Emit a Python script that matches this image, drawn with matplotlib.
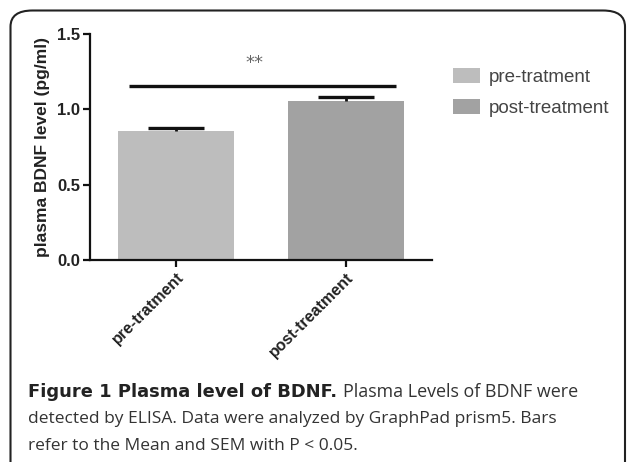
import numpy as np
import matplotlib
matplotlib.use("Agg")
import matplotlib.pyplot as plt
from matplotlib.patches import FancyBboxPatch, Patch

# data
groups = ["pre-tratment", "post-treatment"]
means = [0.853, 1.053]
sem = [0.020, 0.027]
colors = ["#bdbdbd", "#a2a2a2"]
yticks = [0.0, 0.5, 1.0, 1.5]
sig_y = 1.153
sig_label = "**"

W, H = 629, 462
fig = plt.figure(figsize=(W / 100, H / 100), dpi=100)

# rounded frame around the figure
frame = FancyBboxPatch((10.5 / W, -0.2), (625 - 10.5) / W, 1.2 - 10.5 / H,
                       boxstyle="round,pad=0,rounding_size=0.035",
                       transform=fig.transFigure, fill=False,
                       edgecolor="#222222", linewidth=1.5, clip_on=False)
fig.patches.append(frame)

ax = fig.add_axes([90 / W, 1 - 260 / H, (432 - 90) / W, (260 - 34) / H])
x = np.arange(len(groups))
ax.bar(x, means, width=0.682, color=colors, edgecolor="none", zorder=2)
# upper SEM only
tops = np.array(means) + np.array(sem)
ax.vlines(x, means, tops, color="#111111", lw=2.0, zorder=3)
ax.hlines(tops, x - 0.165, x + 0.165, color="#111111", lw=2.4, zorder=3)

ax.plot([-0.276, 1.294], [sig_y, sig_y], color="#111111", lw=2.4, solid_capstyle="butt")
ax.text(0.46, 1.31, sig_label, ha="center", va="center", fontsize=13,
        color="#666666", family="DejaVu Sans")

ax.set_xlim(-0.506, 1.506)
ax.set_ylim(0, 1.5)
ax.set_yticks(yticks)
ax.set_yticklabels([f"{v:.1f}" for v in yticks], fontsize=12, fontweight="bold",
                   family="Liberation Sans", color="#222222")
ax.set_xticks(x)
ax.set_xticklabels(groups, rotation=45, ha="right", va="top", rotation_mode="anchor",
                   fontsize=11.5, fontweight="bold", family="Liberation Sans",
                   color="#222222")
for s in ["top", "right"]:
    ax.spines[s].set_visible(False)
for s in ["left", "bottom"]:
    ax.spines[s].set_linewidth(1.6)
    ax.spines[s].set_color("#111111")
ax.tick_params(axis="both", width=1.6, length=5, color="#111111", pad=2)
ax.set_ylabel("plasma BDNF level (pg/ml)", fontsize=12.5, fontweight="bold",
              family="Liberation Sans", color="#222222", labelpad=5)

handles = [Patch(facecolor=c, edgecolor="none") for c in colors]
fig.legend(handles, groups, loc="upper left", bbox_to_anchor=(453 / W, 1 - 68 / H),
           frameon=False, handlelength=1.44, handleheight=0.85,
           handletextpad=0.45, labelspacing=0.72, borderpad=0, borderaxespad=0,
           prop={"family": "Liberation Sans", "size": 13.5},
           labelcolor="#444444")

# caption
fig.canvas.draw()
r = fig.canvas.get_renderer()
cap_font = "Open Sans"
cs = 12.5
t1 = fig.text(28 / W, 1 - 392 / H, "Figure 1 Plasma level of BDNF.", fontsize=12.9,
              fontweight="bold", family="DejaVu Sans", color="#222222", va="center")
bb = t1.get_window_extent(r)
fig.text(bb.x1 / W + 6 / W, 1 - 392 / H, "Plasma Levels of BDNF were", fontsize=12.9,
         family=cap_font, color="#333333", va="center")
fig.text(28 / W, 1 - 419 / H, "detected by ELISA. Data were analyzed by GraphPad prism5. Bars",
         fontsize=cs, family=cap_font, color="#333333", va="center")
fig.text(28 / W, 1 - 446 / H, "refer to the Mean and SEM with P < 0.05.",
         fontsize=cs, family=cap_font, color="#333333", va="center")

fig.savefig("out.png", dpi=100)
